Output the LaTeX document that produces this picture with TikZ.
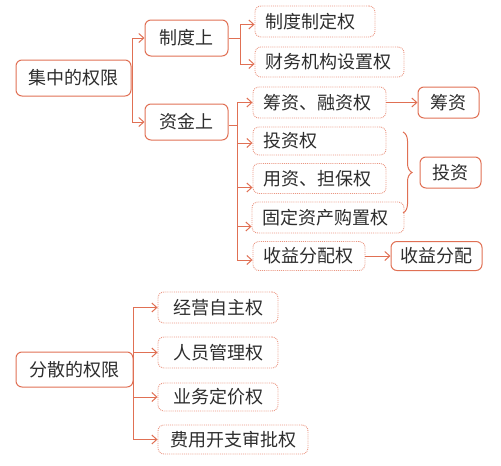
\documentclass[tikz,border=0pt]{standalone}
\usepackage{fontspec}
\setmainfont{Noto Sans CJK SC}
\usetikzlibrary{arrows.meta,decorations.pathreplacing,calc}
\definecolor{edge}{RGB}{224,112,84}
\definecolor{dotedge}{RGB}{234,150,130}
\definecolor{txt}{RGB}{45,45,45}
\begin{document}
\begin{tikzpicture}[x=1pt,y=-1pt,
  every node/.style={font=\fontsize{18pt}{20pt}\selectfont, text=txt},
  solidbox/.style={draw=edge, line width=1pt, rounded corners=6pt, inner sep=0pt, minimum height=#1},
  solidbox/.default=36pt,
  leftbox/.style={draw=dotedge, line width=0.9pt, densely dotted, rounded corners=6pt, inner xsep=10pt, inner ysep=0pt, align=left, minimum height=30pt},
  ctrbox/.style={draw=dotedge, line width=0.9pt, densely dotted, rounded corners=6pt, inner sep=0pt, minimum height=30pt},
  conn/.style={draw=edge, line width=1pt},
  arr/.style={conn, -{Straight Barb[length=5pt,width=9pt,line width=1pt]}},
  bracestyle/.style={draw=edge, line width=1pt, decorate, decoration={brace, amplitude=9pt}}
]
\useasboundingbox (0,0) rectangle (501,466);

% level 0
\node[solidbox, minimum width=115pt] (jz) at (73.5,78) {集中的权限};
\node[solidbox, minimum width=117pt, minimum height=35pt] (fs) at (74.5,369.5) {分散的权限};

% level 1
\node[solidbox, minimum width=83pt] (zd) at (186.5,38) {制度上};
\node[solidbox, minimum width=83pt] (zj) at (186.5,122) {资金上};

% level 2 (制度上)
\node[leftbox, text width=100pt, minimum height=31pt] (a1) at (315,21.5) {制度制定权};
\node[leftbox, text width=129pt] (a2) at (329.5,62) {财务机构设置权};

% level 2 (资金上)
\node[leftbox, text width=113pt, minimum height=31pt] (b1) at (319.5,102.5) {筹资、融资权};
\node[leftbox, text width=113pt, minimum height=28pt] (b2) at (319.5,141) {投资权};
\node[leftbox, text width=113pt] (b3) at (319.5,178.5) {用资、担保权};
\node[leftbox, text width=132pt, minimum height=31pt] (b4) at (328,217.5) {固定资产购置权};
\node[leftbox, text width=92pt, minimum height=29pt] (b5) at (309,256) {收益分配权};

% level 3
\node[solidbox=31pt, minimum width=61pt] (c1) at (448.5,102.5) {筹资};
\node[solidbox=31pt, minimum width=61pt] (c2) at (450.5,172.5) {投资};
\node[solidbox=29pt, minimum width=91pt] (c3) at (436.5,256) {收益分配};

% dispersed
\node[ctrbox, minimum width=120pt, minimum height=31pt] (d1) at (218,307.5) {经营自主权};
\node[ctrbox, minimum width=120pt, minimum height=31pt] (d2) at (218,352.5) {人员管理权};
\node[ctrbox, minimum width=120pt, minimum height=28pt] (d3) at (218,397) {业务定价权};
\node[ctrbox, minimum width=150pt, minimum height=29pt] (d4) at (233,439.5) {费用开支审批权};

% connectors level 0 -> 1
\draw[arr] (jz.east) ++(1,0) coordinate (t0) |- (zd.west);
\draw[arr] (t0) |- (zj.west);
\draw[conn] (jz.east) -- (t0);

% 制度上 branch
\draw[conn] (zd.east) -- ++(12,0) coordinate (t1);
\draw[arr] (t1) |- ([yshift=-3pt]a1.west);
\draw[arr] (t1) |- ([yshift=-2pt]a2.west);

% 资金上 branch
\draw[conn] ([yshift=-3pt]zj.east) -- ++(9,0) coordinate (t2);
\draw[arr] (t2) |- (b1.west);
\draw[arr] (t2) |- ([yshift=-2pt]b2.west);
\draw[arr] (t2) |- ([yshift=-9pt]b3.west);
\draw[arr] (t2) |- ([yshift=-9pt]b4.west);
\draw[arr] (t2) |- ([yshift=-4pt]b5.west);

% right side
\draw[arr] (b1.east) -- (c1.west);
\draw[arr] (b5.east) -- (c3.west);
\draw[bracestyle] (403,132) -- (403,213);

% dispersed branch
\draw[arr] (fs.east) |- (d1.west);
\draw[arr] (fs.east) |- (d2.west);
\draw[arr] (fs.east) |- (d3.west);
\draw[arr] (fs.east) |- (d4.west);
\end{tikzpicture}
\end{document}
